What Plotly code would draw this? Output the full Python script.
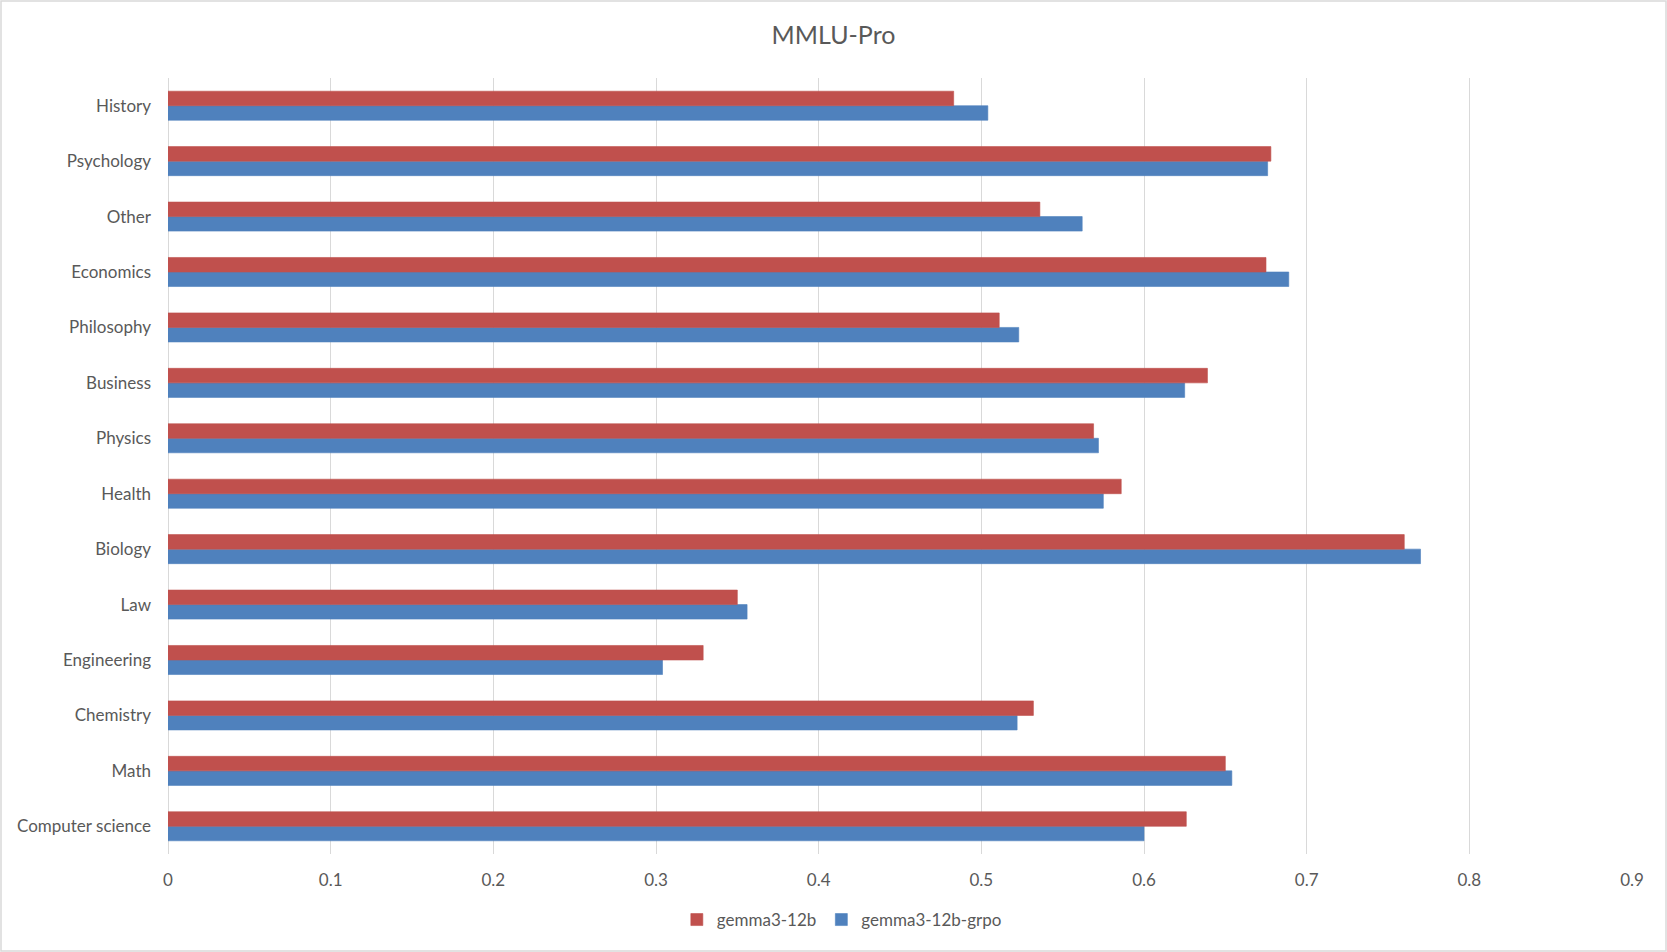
import plotly.graph_objects as go

# MMLU-Pro per-subject accuracy (bottom to top)
categories = ['Computer science', 'Math', 'Chemistry', 'Engineering', 'Law',
              'Biology', 'Health', 'Physics', 'Business', 'Philosophy',
              'Economics', 'Other', 'Psychology', 'History']
gemma_base = [0.626, 0.650, 0.532, 0.329, 0.350, 0.760, 0.586, 0.569,
              0.639, 0.511, 0.675, 0.536, 0.678, 0.483]
gemma_grpo = [0.600, 0.654, 0.522, 0.304, 0.356, 0.770, 0.575, 0.572,
              0.625, 0.523, 0.689, 0.562, 0.676, 0.504]
x_ticks = [0, 0.1, 0.2, 0.3, 0.4, 0.5, 0.6, 0.7, 0.8, 0.9]

W, H = 1667, 952
L, R, T, B = 168, 35, 78, 98
txt = '#595959'
grid = '#D9D9D9'
red = '#C0504D'
blue = '#4F81BD'

fig = go.Figure()
# blue goes first so it sits below red inside each category
fig.add_trace(go.Bar(y=categories, x=gemma_grpo, orientation='h',
                     name='gemma3-12b-grpo', marker_color=blue,
                     marker_line=dict(color=blue, width=0.6)))
fig.add_trace(go.Bar(y=categories, x=gemma_base, orientation='h',
                     name='gemma3-12b', marker_color=red,
                     marker_line=dict(color=red, width=0.6)))

# thin grey frame round the whole chart
pw = W - L - R
ph = H - T - B
fig.add_shape(type='rect', xref='paper', yref='paper',
              x0=(1 - L) / pw, x1=(W - 1 - L) / pw,
              y0=(1 - B) / ph, y1=(H - 1 - B) / ph,
              line=dict(color=grid, width=1.5), layer='below')

fig.update_layout(
    width=W, height=H,
    margin=dict(l=L, r=R, t=T, b=B),
    paper_bgcolor='white', plot_bgcolor='white',
    font=dict(family='Lato, sans-serif', size=17, color=txt),
    barmode='group', bargap=0.476, bargroupgap=0,
    title=dict(text='MMLU-Pro', x=0.5, xref='container', xanchor='center',
               y=1 - 35 / H, yref='container', yanchor='middle',
               font=dict(size=25, color=txt)),
    legend=dict(orientation='h', traceorder='reversed',
                x=0.505, xref='container', xanchor='center',
                y=1 - 920 / H, yref='container', yanchor='middle',
                font=dict(size=17, color=txt), itemwidth=30),
    showlegend=True,
)
fig.update_xaxes(range=[0, 0.9], tickvals=x_ticks, showgrid=True,
                 gridcolor=grid, gridwidth=1.3, zeroline=True,
                 zerolinecolor=grid, zerolinewidth=1.3, showline=False,
                 ticks='', ticklabelstandoff=14)
fig.update_yaxes(type='category', categoryorder='array', categoryarray=categories,
                 showgrid=False, zeroline=False, showline=False, ticks='',
                 ticklabelstandoff=16)

fig.write_html('out.html', config={'displayModeBar': False},
               post_script="document.body.style.margin='0';window.dispatchEvent(new Event('resize'));")
